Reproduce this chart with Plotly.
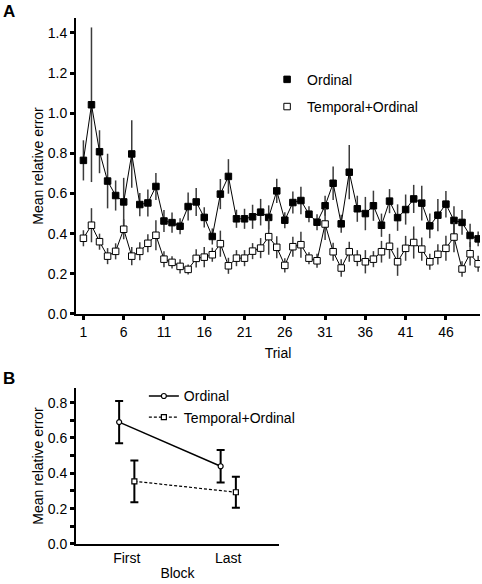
import plotly.graph_objects as go

# ---------------- Panel A data ----------------
trials = list(range(1, 51))
trial_ticks = [1, 6, 11, 16, 21, 26, 31, 36, 41, 46]

ordinal_mean = [0.765, 1.042, 0.808, 0.662, 0.59, 0.558, 0.797, 0.545, 0.553, 0.635,
                0.463, 0.455, 0.437, 0.535, 0.558, 0.481, 0.386, 0.597, 0.685, 0.474,
                0.474, 0.484, 0.507, 0.481, 0.613, 0.467, 0.555, 0.565, 0.497, 0.457,
                0.539, 0.651, 0.449, 0.706, 0.524, 0.5, 0.539, 0.442, 0.562, 0.48,
                0.52, 0.573, 0.552, 0.439, 0.492, 0.547, 0.466, 0.456, 0.391, 0.374]
ordinal_err = [0.10, 0.385, 0.107, 0.136, 0.075, 0.12, 0.168, 0.058, 0.067, 0.067,
               0.055, 0.05, 0.04, 0.07, 0.07, 0.05, 0.04, 0.075, 0.086, 0.045,
               0.05, 0.06, 0.066, 0.06, 0.06, 0.04, 0.055, 0.068, 0.04, 0.04,
               0.05, 0.083, 0.045, 0.135, 0.065, 0.083, 0.075, 0.058, 0.06, 0.066,
               0.075, 0.07, 0.087, 0.062, 0.08, 0.066, 0.07, 0.062, 0.058, 0.037]

temporal_mean = [0.377, 0.442, 0.36, 0.288, 0.312, 0.422, 0.288, 0.312, 0.352, 0.392,
                 0.273, 0.257, 0.237, 0.222, 0.277, 0.283, 0.295, 0.35, 0.24, 0.278,
                 0.278, 0.313, 0.328, 0.385, 0.332, 0.242, 0.335, 0.345, 0.278, 0.265,
                 0.448, 0.31, 0.229, 0.31, 0.278, 0.26, 0.273, 0.31, 0.337, 0.26,
                 0.327, 0.356, 0.323, 0.26, 0.297, 0.327, 0.383, 0.224, 0.3, 0.25]
temporal_err = [0.04, 0.085, 0.04, 0.04, 0.04, 0.05, 0.045, 0.045, 0.045, 0.075,
                0.04, 0.03, 0.035, 0.025, 0.045, 0.05, 0.035, 0.065, 0.04, 0.04,
                0.04, 0.04, 0.05, 0.09, 0.055, 0.035, 0.05, 0.065, 0.03, 0.035,
                0.08, 0.045, 0.043, 0.05, 0.04, 0.058, 0.04, 0.054, 0.062, 0.07,
                0.062, 0.08, 0.058, 0.04, 0.05, 0.062, 0.075, 0.038, 0.058, 0.04]

# ---------------- Panel B data ----------------
blocks = ["First", "Last"]
block_ordinal = [0.69, 0.44]
block_ordinal_err = [0.12, 0.092]
block_temporal = [0.355, 0.293]
block_temporal_err = [0.118, 0.088]

series_names = ["Ordinal", "Temporal+Ordinal"]

FONT = "Arial, 'Liberation Sans', sans-serif"
BLACK = "black"

fig = go.Figure()

# Panel A traces
fig.add_trace(go.Scatter(
    x=trials, y=ordinal_mean, mode="lines+markers", showlegend=False,
    line=dict(color=BLACK, width=1),
    marker=dict(symbol="square", size=6.5, color=BLACK, line=dict(color=BLACK, width=1)),
    error_y=dict(type="data", array=ordinal_err, color="#3c3c3c", thickness=1.5, width=0),
    xaxis="x", yaxis="y"))
fig.add_trace(go.Scatter(
    x=trials, y=temporal_mean, mode="lines+markers", showlegend=False,
    line=dict(color=BLACK, width=1),
    marker=dict(symbol="square", size=6.5, color="white", line=dict(color=BLACK, width=1)),
    error_y=dict(type="data", array=temporal_err, color="#3c3c3c", thickness=1.5, width=0),
    xaxis="x", yaxis="y"))

# Panel A legend entries
fig.add_trace(go.Scatter(
    x=[None], y=[None], mode="markers", name=series_names[0], legend="legend",
    legendgroup="a1",
    marker=dict(symbol="square", size=6.5, color=BLACK, line=dict(color=BLACK, width=1)),
    xaxis="x", yaxis="y"))
fig.add_trace(go.Scatter(
    x=[None], y=[None], mode="markers", name=series_names[1], legend="legend",
    legendgroup="a2",
    marker=dict(symbol="square", size=6.5, color="white", line=dict(color=BLACK, width=1)),
    xaxis="x", yaxis="y"))

# Panel B traces
offset = 0.075
xb_ord = [i - offset for i in range(len(blocks))]
xb_tmp = [i + offset for i in range(len(blocks))]
fig.add_trace(go.Scatter(
    x=xb_ord, y=block_ordinal, mode="lines+markers", name=series_names[0],
    legend="legend2", legendgroup="b1",
    line=dict(color=BLACK, width=1.5),
    marker=dict(symbol="circle", size=5, color="white", line=dict(color=BLACK, width=1.2)),
    error_y=dict(type="data", array=block_ordinal_err, color=BLACK, thickness=2, width=4),
    xaxis="x2", yaxis="y2"))
fig.add_trace(go.Scatter(
    x=xb_tmp, y=block_temporal, mode="lines+markers", name=series_names[1],
    legend="legend2", legendgroup="b2",
    line=dict(color=BLACK, width=1.2, dash="3px,2px"),
    marker=dict(symbol="square", size=5, color="white", line=dict(color=BLACK, width=1.2)),
    error_y=dict(type="data", array=block_temporal_err, color=BLACK, thickness=2, width=4),
    xaxis="x2", yaxis="y2"))

axis_common = dict(showline=True, linecolor=BLACK, linewidth=2, showgrid=False,
                   zeroline=False, ticks="outside", tickcolor=BLACK, ticklen=4,
                   tickwidth=2.5, tickfont=dict(size=14, color=BLACK, family=FONT),
                   automargin=False)

b_ticks = [0.0, 0.1, 0.2, 0.3, 0.4, 0.5, 0.6, 0.7, 0.8]
b_ticktext = ["0.0", "", "0.2", "", "0.4", "", "0.6", "", "0.8"]

fig.update_layout(
    width=482, height=584,
    margin=dict(l=76, r=2, t=18, b=40),
    paper_bgcolor="white", plot_bgcolor="white",
    font=dict(family=FONT, size=14, color=BLACK),
    xaxis=dict(domain=[0, 1], range=[0.08, 50.23], tickvals=trial_ticks, anchor="y",
               title=dict(text="Trial", font=dict(size=14), standoff=9), **axis_common),
    yaxis=dict(domain=[0.4373, 1], range=[0, 1.474], dtick=0.2, tick0=0, tickformat=".1f",
               anchor="x", title=dict(text="Mean relative error", font=dict(size=14), standoff=1),
               **axis_common),
    xaxis2=dict(domain=[0, 0.5025], range=[-0.5, 1.5], tickvals=[0, 1], ticktext=blocks,
                anchor="y2", title=dict(text="Block", font=dict(size=14), standoff=3),
                **{**axis_common, "ticks": ""}),
    yaxis2=dict(domain=[0, 0.2966], range=[0, 0.883], tickvals=b_ticks, ticktext=b_ticktext,
                anchor="x2", title=dict(text="Mean relative error", font=dict(size=14), standoff=1),
                **axis_common),
    legend=dict(x=0.473, y=0.913, xanchor="left", yanchor="top", bgcolor="rgba(0,0,0,0)",
                traceorder="grouped", tracegroupgap=6, font=dict(size=14)),
    legend2=dict(x=0.168, y=0.311, xanchor="left", yanchor="top", bgcolor="rgba(0,0,0,0)",
                 traceorder="grouped", tracegroupgap=0, font=dict(size=14)),
    annotations=[
        dict(text="<b>A</b>", x=-0.167, y=1.012, xref="paper", yref="paper",
             xanchor="center", yanchor="middle", showarrow=False, font=dict(size=17)),
        dict(text="<b>B</b>", x=-0.167, y=0.314, xref="paper", yref="paper",
             xanchor="center", yanchor="middle", showarrow=False, font=dict(size=17)),
    ],
)

fig.write_html("out.html", config={"displayModeBar": False},
               post_script="document.body.style.margin='0px';")
